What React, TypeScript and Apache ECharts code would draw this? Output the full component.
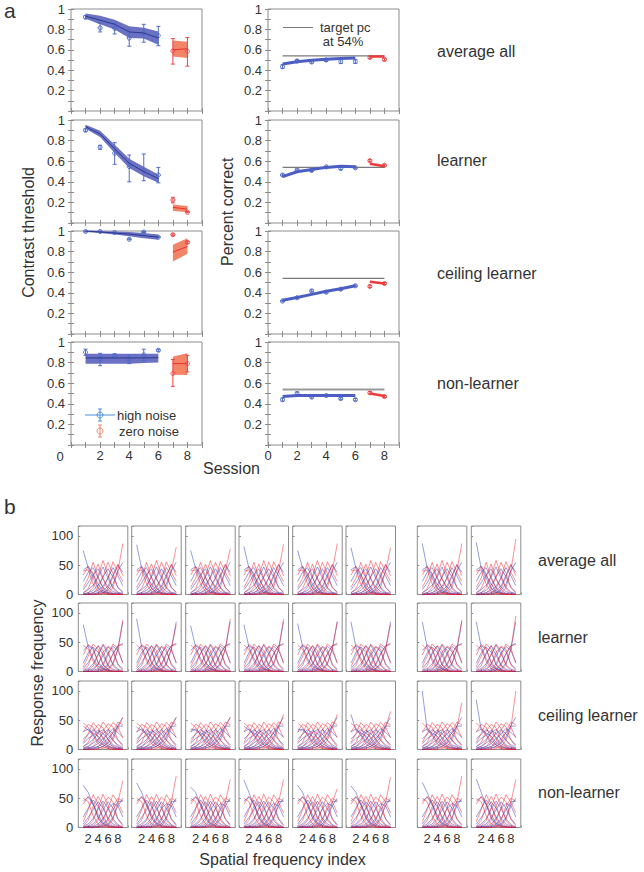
import React, { useEffect, useRef } from "react";
import * as echarts from "echarts";

const FONT = "'Liberation Sans', Arial, Helvetica, sans-serif";
const TXT = "#333333";

// ---------- Panel a data ----------
const sessHN = [1, 2, 3, 4, 5, 6];
const sessZN = [7, 8];
const rowLabels = ["average all", "learner", "ceiling learner", "non-learner"];

// contrast threshold, high noise (sessions 1-6)
const thrFitHN = [
  [0.93, 0.89, 0.85, 0.775, 0.765, 0.715],
  [0.935, 0.864, 0.72, 0.58, 0.5, 0.43],
  [1.0, 0.99, 0.98, 0.97, 0.955, 0.94],
  [0.845, 0.845, 0.845, 0.845, 0.845, 0.848],
];
const thrBandLoHN = [
  [0.905, 0.85, 0.8, 0.715, 0.71, 0.65],
  [0.915, 0.835, 0.68, 0.535, 0.455, 0.39],
  [0.99, 0.98, 0.965, 0.95, 0.93, 0.915],
  [0.79, 0.79, 0.79, 0.79, 0.795, 0.8],
];
const thrBandHiHN = [
  [0.955, 0.935, 0.895, 0.83, 0.815, 0.78],
  [0.955, 0.895, 0.76, 0.625, 0.545, 0.47],
  [1.005, 1.0, 0.995, 0.99, 0.98, 0.965],
  [0.887, 0.887, 0.887, 0.885, 0.885, 0.885],
];
const thrPtHN = [
  [0.92, 0.815, 0.81, 0.715, 0.765, 0.74],
  [0.9, 0.735, 0.677, 0.547, 0.508, 0.466],
  [0.995, 0.995, 0.985, 0.92, 0.99, 0.94],
  [0.9, 0.835, 0.866, 0.83, 0.875, 0.92],
];
const thrErrLoHN = [
  [0.905, 0.775, 0.755, 0.635, 0.675, 0.64],
  [0.89, 0.715, 0.57, 0.4, 0.41, 0.39],
  [0.99, 0.99, 0.98, 0.915, 0.985, 0.935],
  [0.87, 0.77, 0.845, 0.79, 0.82, 0.91],
];
const thrErrHiHN = [
  [0.935, 0.86, 0.86, 0.8, 0.85, 0.83],
  [0.915, 0.755, 0.78, 0.66, 0.67, 0.54],
  [1.0, 1.0, 0.99, 0.925, 0.995, 0.945],
  [0.93, 0.89, 0.885, 0.87, 0.93, 0.93],
];
// contrast threshold, zero noise (sessions 7-8)
const thrFitZN = [[0.6, 0.61], [0.152, 0.135], [0.795, 0.85], [0.79, 0.79]];
const thrBandLoZN = [[0.535, 0.52], [0.12, 0.105], [0.703, 0.778], [0.683, 0.68]];
const thrBandHiZN = [[0.69, 0.68], [0.18, 0.165], [0.866, 0.93], [0.86, 0.89]];
const thrPtZN = [[0.59, 0.585], [0.223, 0.104], [0.964, 0.89], [0.695, 0.79]];
const thrErrLoZN = [[0.46, 0.44], [0.195, 0.1], [0.955, 0.88], [0.57, 0.71]];
const thrErrHiZN = [[0.71, 0.72], [0.25, 0.11], [0.972, 0.9], [0.83, 0.87]];

// percent correct
const pcFitHN = [
  [0.46, 0.483, 0.497, 0.508, 0.515, 0.52],
  [0.45, 0.498, 0.52, 0.54, 0.55, 0.547],
  [0.328, 0.355, 0.385, 0.415, 0.44, 0.468],
  [0.47, 0.48, 0.48, 0.48, 0.48, 0.48],
];
const pcPtHN = [
  [0.435, 0.49, 0.48, 0.5, 0.485, 0.485],
  [0.466, 0.515, 0.509, 0.545, 0.529, 0.536],
  [0.32, 0.352, 0.419, 0.405, 0.435, 0.468],
  [0.44, 0.5, 0.465, 0.48, 0.45, 0.44],
];
const pcErrHN = [
  [0.018, 0.015, 0.012, 0.015, 0.02, 0.018],
  [0.01, 0.01, 0.01, 0.008, 0.012, 0.01],
  [0.008, 0.008, 0.01, 0.008, 0.01, 0.008],
  [0.015, 0.015, 0.01, 0.01, 0.01, 0.012],
];
const pcFitZN = [[0.535, 0.535], [0.575, 0.55], [0.507, 0.49], [0.5, 0.475]];
const pcPtZN = [[0.525, 0.505], [0.605, 0.56], [0.462, 0.49], [0.507, 0.47]];
const pcErrZN = [[0.012, 0.012], [0.01, 0.01], [0.01, 0.01], [0.012, 0.01]];
const targetPc = 0.54;
const targetSpan = [1, 8];

// ---------- Panel b data ----------
const sfIndex = [1, 2, 3, 4, 5, 6, 7, 8, 9];
const pbBlue = [
  [
    [75, 45, 28, 10, 4, 2, 1, 0, 0],
    [42, 48, 33, 18, 6, 2, 1, 0, 0],
    [22, 38, 46, 28, 12, 4, 2, 1, 0],
    [8, 20, 34, 44, 26, 13, 5, 2, 1],
    [3, 8, 16, 30, 47, 28, 12, 4, 2],
    [1, 3, 7, 16, 30, 44, 30, 12, 4],
    [0, 1, 3, 7, 14, 28, 46, 32, 15],
    [0, 0, 1, 3, 7, 14, 33, 50, 38],
    [0, 0, 0, 1, 3, 7, 18, 40, 55],
  ],
  [
    [80, 42, 22, 9, 4, 1, 0, 0, 0],
    [36, 44, 38, 16, 6, 2, 0, 0, 0],
    [14, 32, 42, 33, 12, 4, 1, 0, 0],
    [5, 15, 30, 44, 28, 11, 4, 1, 0],
    [2, 5, 13, 28, 45, 30, 12, 4, 1],
    [0, 2, 5, 13, 27, 42, 34, 13, 4],
    [0, 0, 2, 5, 13, 31, 43, 36, 15],
    [0, 0, 0, 2, 5, 13, 30, 44, 48],
    [0, 0, 0, 0, 2, 5, 14, 38, 85],
  ],
  [
    [40, 33, 26, 14, 8, 4, 2, 1, 0],
    [30, 35, 28, 23, 12, 6, 3, 1, 0],
    [18, 26, 34, 28, 21, 10, 5, 2, 1],
    [10, 19, 24, 33, 27, 18, 8, 4, 2],
    [5, 10, 17, 29, 34, 26, 16, 8, 3],
    [3, 5, 11, 17, 27, 34, 27, 17, 8],
    [1, 3, 5, 10, 19, 26, 36, 29, 21],
    [0, 1, 3, 5, 10, 19, 28, 40, 40],
    [0, 0, 1, 3, 5, 11, 21, 41, 55],
  ],
  [
    [75, 60, 38, 17, 6, 2, 1, 0, 0],
    [45, 52, 40, 22, 8, 3, 1, 0, 0],
    [18, 33, 47, 36, 18, 6, 2, 0, 0],
    [6, 17, 30, 44, 33, 16, 6, 2, 0],
    [2, 6, 15, 31, 45, 33, 15, 5, 1],
    [1, 2, 6, 16, 30, 44, 33, 15, 5],
    [0, 1, 2, 6, 15, 32, 41, 37, 18],
    [0, 0, 1, 2, 6, 15, 30, 44, 45],
    [0, 0, 0, 1, 2, 6, 17, 37, 50],
  ],
];
const pbRed = [
  [
    [40, 42, 18, 5, 2, 0, 0, 0, 0],
    [33, 48, 36, 12, 3, 1, 0, 0, 0],
    [12, 28, 55, 30, 10, 2, 0, 0, 0],
    [3, 10, 30, 52, 28, 8, 2, 0, 0],
    [1, 3, 12, 32, 58, 34, 10, 2, 0],
    [0, 1, 3, 10, 30, 55, 36, 12, 3],
    [0, 0, 1, 3, 10, 28, 56, 38, 22],
    [0, 0, 0, 1, 3, 10, 30, 52, 32],
    [0, 0, 0, 0, 1, 3, 12, 40, 85],
  ],
  [
    [45, 38, 18, 5, 1, 0, 0, 0, 0],
    [28, 46, 40, 14, 4, 1, 0, 0, 0],
    [8, 26, 47, 38, 11, 3, 0, 0, 0],
    [2, 10, 32, 44, 36, 9, 2, 0, 0],
    [0, 3, 9, 30, 47, 36, 10, 2, 0],
    [0, 0, 3, 11, 33, 43, 38, 11, 2],
    [0, 0, 0, 3, 9, 28, 47, 40, 14],
    [0, 0, 0, 0, 3, 10, 30, 44, 46],
    [0, 0, 0, 0, 0, 3, 12, 38, 88],
  ],
  [
    [45, 38, 24, 10, 4, 1, 0, 0, 0],
    [30, 43, 38, 20, 8, 2, 1, 0, 0],
    [12, 27, 46, 36, 18, 6, 2, 0, 0],
    [5, 12, 31, 43, 37, 16, 5, 1, 0],
    [2, 5, 14, 29, 47, 36, 16, 5, 1],
    [0, 2, 5, 15, 31, 44, 39, 16, 5],
    [0, 0, 2, 5, 14, 33, 46, 38, 20],
    [0, 0, 0, 2, 5, 14, 30, 47, 42],
    [0, 0, 0, 0, 2, 5, 16, 37, 55],
  ],
  [
    [50, 44, 20, 6, 2, 0, 0, 0, 0],
    [40, 53, 43, 16, 4, 1, 0, 0, 0],
    [10, 30, 56, 40, 14, 3, 1, 0, 0],
    [3, 12, 36, 53, 38, 12, 3, 1, 0],
    [1, 3, 12, 34, 57, 38, 12, 3, 1],
    [0, 1, 3, 12, 38, 52, 44, 14, 3],
    [0, 0, 1, 3, 12, 33, 56, 43, 25],
    [0, 0, 0, 1, 3, 12, 36, 50, 45],
    [0, 0, 0, 0, 1, 3, 14, 43, 80],
  ],
];
// first blue value and last red value of each small plot (rows x 8 columns)
const pbBlueStart = [
  [75, 85, 75, 82, 75, 80, 87, 89],
  [80, 90, 78, 80, 82, 85, 85, 85],
  [40, 38, 35, 40, 35, 60, 100, 85],
  [72, 76, 69, 81, 72, 71, 77, 83],
];
const pbRedEnd = [
  [87, 81, 78, 86, 87, 80, 87, 95],
  [88, 80, 90, 90, 85, 80, 88, 95],
  [55, 55, 55, 60, 60, 65, 80, 100],
  [80, 88, 82, 82, 66, 86, 88, 82],
];

// ---------- colours ----------
const C = {
  blueBand: "#6b72c4",
  blueLine: "#2b3990",
  blueMark: "#4f6bc8",
  blueFit: "#4c5ec4",
  redBand: "#f28468",
  redLine: "#e8312f",
  redMark: "#ee4444",
  redFit: "#ee3a3a",
  box: "#8c8c8c",
  bBlue: "rgba(35,55,190,0.62)",
  bRed: "rgba(245,30,40,0.62)",
};

function bandSeries(xi: number, yi: number, xs: number[], lo: number[], hi: number[], color: string) {
  return {
    type: "custom",
    xAxisIndex: xi,
    yAxisIndex: yi,
    silent: true,
    clip: false,
    data: xs.map((x, i) => [x, lo[i], hi[i]]),
    encode: { x: 0, y: [1, 2] },
    renderItem: (params: any, api: any) => {
      if (params.dataIndex !== 0) return null;
      const pts: number[][] = [];
      for (let i = 0; i < xs.length; i++) pts.push(api.coord([xs[i], hi[i]]));
      for (let i = xs.length - 1; i >= 0; i--) pts.push(api.coord([xs[i], lo[i]]));
      return { type: "polygon", shape: { points: pts }, style: { fill: color } };
    },
  };
}

function errSeries(xi: number, yi: number, xs: number[], ys: number[], lo: number[], hi: number[], color: string) {
  return {
    type: "custom",
    xAxisIndex: xi,
    yAxisIndex: yi,
    silent: true,
    clip: false,
    data: xs.map((x, i) => [x, ys[i], lo[i], hi[i]]),
    encode: { x: 0, y: [1, 2, 3] },
    renderItem: (_p: any, api: any) => {
      const x = api.value(0);
      const p = api.coord([x, api.value(1)]);
      const pl = api.coord([x, api.value(2)]);
      const ph = api.coord([x, api.value(3)]);
      const st = { stroke: color, lineWidth: 1, fill: "none" };
      return {
        type: "group",
        children: [
          { type: "line", shape: { x1: pl[0], y1: pl[1], x2: ph[0], y2: ph[1] }, style: st },
          { type: "line", shape: { x1: pl[0] - 2, y1: pl[1], x2: pl[0] + 2, y2: pl[1] }, style: st },
          { type: "line", shape: { x1: ph[0] - 2, y1: ph[1], x2: ph[0] + 2, y2: ph[1] }, style: st },
          { type: "circle", shape: { cx: p[0], cy: p[1], r: 2 }, style: { stroke: color, lineWidth: 1, fill: "rgba(255,255,255,0)" } },
        ],
      };
    },
  };
}

function lineSeries(xi: number, yi: number, xs: number[], ys: number[], color: string, width: number, z = 3) {
  return {
    type: "line",
    xAxisIndex: xi,
    yAxisIndex: yi,
    silent: true,
    showSymbol: false,
    symbol: "none",
    z,
    data: xs.map((x, i) => [x, ys[i]]),
    lineStyle: { color, width },
  };
}

function txt(text: string, x: number, y: number, size: number, extra: any = {}) {
  return {
    type: "text",
    x,
    y,
    silent: true,
    ...extra,
    style: { text, fontSize: size, fontFamily: FONT, fill: TXT, align: extra.align || "left", verticalAlign: "middle" },
  };
}

function buildOption() {
  const grid: any[] = [];
  const xAxis: any[] = [];
  const yAxis: any[] = [];
  const series: any[] = [];
  const graphic: any[] = [];

  const mkGrid = (left: number, top: number, width: number, height: number) => ({
    left, top, width, height,
    show: true,
    borderColor: C.box,
    borderWidth: 1,
    backgroundColor: "rgba(0,0,0,0)",
    containLabel: false,
    outerBoundsMode: "none",
  });
  const tickStyle = { color: C.box, width: 1 };

  // ---------------- Panel a ----------------
  const aLeft = [71, 268];
  const aTop = [9, 120, 231, 342];
  const aH = [102, 103, 103, 103];
  const aW = 131;
  for (let r = 0; r < 4; r++) {
    for (let c = 0; c < 2; c++) {
      const gi = grid.length;
      grid.push(mkGrid(aLeft[c], aTop[r], aW, aH[r]));
      const xi = xAxis.length;
      const showX = r === 3;
      xAxis.push({
        type: "value", gridIndex: gi, position: "bottom", min: 0, max: 9, interval: 1,
        axisLine: { show: false }, splitLine: { show: false },
        axisTick: { show: true, inside: true, length: 3, lineStyle: tickStyle },
        axisLabel: {
          show: showX, fontSize: 13, color: TXT, fontFamily: FONT, margin: 4,
          formatter: (v: number) => (v % 2 === 0 && v < 9 && (c === 1 || v > 0) ? String(v) : ""),
        },
      });
      xAxis.push({
        type: "value", gridIndex: gi, position: "top", min: 0, max: 9, interval: 1,
        axisLine: { show: false }, splitLine: { show: false },
        axisTick: { show: true, inside: true, length: 3, lineStyle: tickStyle },
        axisLabel: { show: false },
      });
      const yi = yAxis.length;
      yAxis.push({
        type: "value", gridIndex: gi, position: "left", min: 0, max: 1, interval: 0.1,
        axisLine: { show: false }, splitLine: { show: false },
        axisTick: { show: true, inside: true, length: 3, lineStyle: tickStyle },
        axisLabel: {
          fontSize: 13, color: TXT, fontFamily: FONT, margin: 6,
          formatter: (v: number) => {
            const k = Math.round(v * 10);
            if (k <= 0 || k % 2 !== 0) return "";
            return k === 10 ? "1" : (k / 10).toFixed(1);
          },
        },
      });
      yAxis.push({
        type: "value", gridIndex: gi, position: "right", min: 0, max: 1, interval: 0.1,
        axisLine: { show: false }, splitLine: { show: false },
        axisTick: { show: true, inside: true, length: 3, lineStyle: tickStyle },
        axisLabel: { show: false },
      });

      if (c === 0) {
        series.push(bandSeries(xi, yi, sessHN, thrBandLoHN[r], thrBandHiHN[r], C.blueBand));
        series.push(lineSeries(xi, yi, sessHN, thrFitHN[r], C.blueLine, 1));
        series.push(errSeries(xi, yi, sessHN, thrPtHN[r], thrErrLoHN[r], thrErrHiHN[r], C.blueMark));
        series.push(bandSeries(xi, yi, sessZN, thrBandLoZN[r], thrBandHiZN[r], C.redBand));
        series.push(lineSeries(xi, yi, sessZN, thrFitZN[r], C.redLine, 1));
        series.push(errSeries(xi, yi, sessZN, thrPtZN[r], thrErrLoZN[r], thrErrHiZN[r], C.redMark));
      } else {
        series.push(lineSeries(xi, yi, targetSpan, [targetPc, targetPc], r === 3 ? "#9a9a9a" : "#7a7a7a", r === 3 ? 2 : 1.2, 2));
        series.push(lineSeries(xi, yi, sessHN, pcFitHN[r], C.blueFit, 3));
        series.push(errSeries(xi, yi, sessHN, pcPtHN[r],
          pcPtHN[r].map((v, i) => v - pcErrHN[r][i]), pcPtHN[r].map((v, i) => v + pcErrHN[r][i]), C.blueMark));
        series.push(lineSeries(xi, yi, sessZN, pcFitZN[r], C.redFit, 2.5));
        series.push(errSeries(xi, yi, sessZN, pcPtZN[r],
          pcPtZN[r].map((v, i) => v - pcErrZN[r][i]), pcPtZN[r].map((v, i) => v + pcErrZN[r][i]), C.redMark));
      }
    }
  }

  // ---------------- Panel b ----------------
  const bLeft = [78.3, 131.7, 185.7, 239, 292.7, 346, 417.3, 471.3];
  const bTop = [526, 603, 681, 759];
  const bW = 49.5;
  const bH = 68.5;
  for (let r = 0; r < 4; r++) {
    for (let c = 0; c < 8; c++) {
      const gi = grid.length;
      grid.push(mkGrid(bLeft[c], bTop[r], bW, bH));
      const xi = xAxis.length;
      xAxis.push({
        type: "value", gridIndex: gi, min: 0, max: 10, interval: 2,
        axisLine: { show: false }, splitLine: { show: false },
        axisTick: { show: true, inside: true, length: 2, lineStyle: tickStyle },
        axisLabel: {
          show: r === 3, fontSize: 13, color: TXT, fontFamily: FONT, margin: 4,
          formatter: (v: number) => (v > 0 && v < 10 ? String(v) : ""),
        },
      });
      const yi = yAxis.length;
      yAxis.push({
        type: "value", gridIndex: gi, min: 0, max: 117, interval: 50,
        axisLine: { show: false }, splitLine: { show: false },
        axisTick: { show: true, inside: true, length: 2, lineStyle: tickStyle },
        axisLabel: {
          show: c === 0, fontSize: 13, color: TXT, fontFamily: FONT, margin: 5,
          formatter: (v: number) => (v === 0 || v === 50 || v === 100 ? String(v) : ""),
        },
      });
      for (let k = 0; k < 9; k++) {
        const bv = pbBlue[r][k].slice();
        if (k === 0) bv[0] = pbBlueStart[r][c];
        const rv = pbRed[r][k].slice();
        if (k === 8) rv[8] = pbRedEnd[r][c];
        series.push(lineSeries(xi, yi, sfIndex, bv, C.bBlue, 0.8));
        series.push(lineSeries(xi, yi, sfIndex, rv, C.bRed, 0.8));
      }
    }
  }

  // ---------------- texts ----------------
  graphic.push(txt("a", 4, 10, 21));
  graphic.push(txt("b", 4, 506, 21));
  graphic.push(txt("Contrast threshold", 28, 232.5, 16, { rotation: Math.PI / 2, align: "center" }));
  graphic.push(txt("Percent correct", 227, 211.7, 16, { rotation: Math.PI / 2, align: "center" }));
  graphic.push(txt("Session", 231.5, 468, 16, { align: "center" }));
  graphic.push(txt("0", 60, 456, 13, { align: "center" }));
  graphic.push(txt("Response frequency", 37, 673, 16, { rotation: Math.PI / 2, align: "center" }));
  graphic.push(txt("Spatial frequency index", 282.5, 859, 16, { align: "center" }));

  const aRowY = [51.7, 160, 273, 383];
  const bRowY = [560.7, 637, 715, 792];
  for (let r = 0; r < 4; r++) {
    graphic.push(txt(rowLabels[r], 437, aRowY[r], 16));
    graphic.push(txt(rowLabels[r], 538, bRowY[r], 16));
  }

  // target legend
  graphic.push({ type: "line", silent: true, shape: { x1: 283, y1: 27.5, x2: 313, y2: 27.5 }, style: { stroke: "#7a7a7a", lineWidth: 1 } });
  graphic.push(txt("target pc", 320, 27, 13));
  graphic.push(txt("at 54%", 343, 41.5, 13, { align: "center" }));

  // noise legend
  const lb = "#4a8fd8";
  const lr = "#f0866a";
  graphic.push({ type: "line", silent: true, shape: { x1: 85, y1: 415, x2: 115, y2: 415 }, style: { stroke: lb, lineWidth: 1 } });
  graphic.push({ type: "line", silent: true, shape: { x1: 100, y1: 409, x2: 100, y2: 421 }, style: { stroke: lb, lineWidth: 1 } });
  graphic.push({ type: "line", silent: true, shape: { x1: 98, y1: 409, x2: 102, y2: 409 }, style: { stroke: lb, lineWidth: 1 } });
  graphic.push({ type: "line", silent: true, shape: { x1: 98, y1: 421, x2: 102, y2: 421 }, style: { stroke: lb, lineWidth: 1 } });
  graphic.push({ type: "circle", silent: true, shape: { cx: 100, cy: 415, r: 3 }, style: { stroke: lb, fill: "rgba(255,255,255,0)", lineWidth: 1 } });
  graphic.push(txt("high noise", 117, 415, 13));
  graphic.push({ type: "line", silent: true, shape: { x1: 100, y1: 425, x2: 100, y2: 437 }, style: { stroke: lr, lineWidth: 1 } });
  graphic.push({ type: "line", silent: true, shape: { x1: 98, y1: 425, x2: 102, y2: 425 }, style: { stroke: lr, lineWidth: 1 } });
  graphic.push({ type: "line", silent: true, shape: { x1: 98, y1: 437, x2: 102, y2: 437 }, style: { stroke: lr, lineWidth: 1 } });
  graphic.push({ type: "circle", silent: true, shape: { cx: 100, cy: 431, r: 3 }, style: { stroke: lr, fill: "rgba(255,255,255,0)", lineWidth: 1 } });
  graphic.push(txt("zero noise", 119, 431, 13));

  return {
    animation: false,
    backgroundColor: "#ffffff",
    textStyle: { fontFamily: FONT },
    grid,
    xAxis,
    yAxis,
    series,
    graphic,
  };
}

export default function App() {
  const ref = useRef<HTMLDivElement>(null);
  useEffect(() => {
    const chart = echarts.init(ref.current as HTMLDivElement, null, { renderer: "svg" });
    chart.setOption(buildOption() as any);
    return () => chart.dispose();
  }, []);
  return (
    <div
      ref={ref}
      style={{ position: "absolute", left: 0, top: 0, width: 644, height: 872, background: "#fff" }}
    />
  );
}
